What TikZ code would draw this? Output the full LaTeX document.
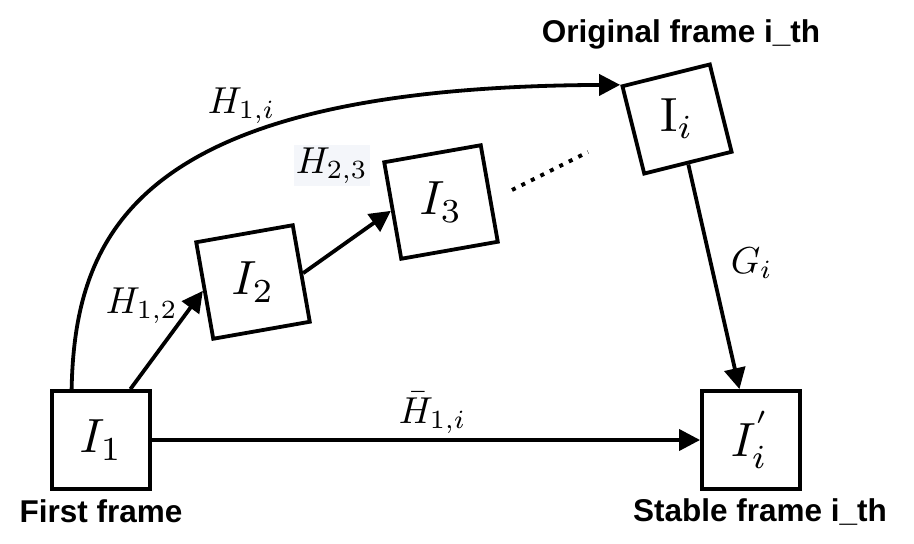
\documentclass[tikz,border=0pt]{standalone}
\usepackage{fontspec}
\newfontfamily\labfont{Liberation Sans}
\usetikzlibrary{arrows.meta}
\definecolor{hbg}{RGB}{244,246,250}
\tikzset{
  fbox/.style={draw, line width=3.8pt, minimum size=98pt, inner sep=0pt},
  mtext/.style={inner sep=0pt, font=\fontsize{10}{12}\selectfont, scale=4.8},
  mlab/.style={inner sep=0pt, font=\fontsize{10}{12}\selectfont, scale=3.75, anchor=base west},
  tlab/.style={inner sep=0pt, font=\labfont\bfseries\fontsize{31.5}{34}\selectfont, anchor=base},
  arr/.style={line width=3.8pt, -{Triangle[length=21pt,width=21pt]}},
  dotline/.style={line width=4pt, dash pattern=on 4pt off 6.6pt}
}
\begin{document}
\begin{tikzpicture}[x=1pt,y=-1pt]
\useasboundingbox (0,0) rectangle (914,544);
% boxes
\node[fbox] (I1) at (101,440) {};
\node[mtext] (t1) at (I1) {$I_1$};
\node[fbox, rotate=10] (I2) at (253,282) {};
\node[mtext] (t2) at (I2) {$I_2$};
\node[fbox, rotate=10] (I3) at (441,202) {};
\node[mtext] (t3) at (I3) {$I_3$};
\node[fbox, minimum size=90pt, rotate=14] (Ii) at (677,119) {};
\node[mtext] (ti) at (Ii) {$\mathrm{I}_i$};
\node[fbox] (Ip) at (751,440) {};
\node[mtext] (tp) at (Ip) {$I_i^{'}$};
% connectors
\draw[arr] (I1.60) -- (I2.west);
\draw[arr] (I2.east) -- (I3.west);
\draw[arr] (I1.120) .. controls (75,230) and (140,87) .. (Ii.north west);
\draw[arr] (Ii.south) -- (Ip);
\draw[arr] (I1) -- (Ip);
\coordinate (d1) at (512,190);
\coordinate (d2) at (588,152);
\draw[dotline] (d1) -- (d2);
% math labels
\node[mlab] (h1i) at (207,113) {$H_{1,i}$};
\node[mlab, fill=hbg, inner sep=0.55pt] (h23) at (293,173) {$H_{2,3}$};
\node[mlab] (h12) at (105,313) {$H_{1,2}$};
\node[mlab] (gi) at (730,273) {$G_i$};
\node[mlab] (hb) at (398,423) {$\bar{H}_{1,i}$};
% text labels
\node[tlab] (lfirst) at (101,522) {First frame};
\node[tlab] (lstable) at (760,521) {Stable frame i\_th};
\node[tlab] (lorig) at (681,42) {Original frame i\_th};
\end{tikzpicture}
\end{document}
